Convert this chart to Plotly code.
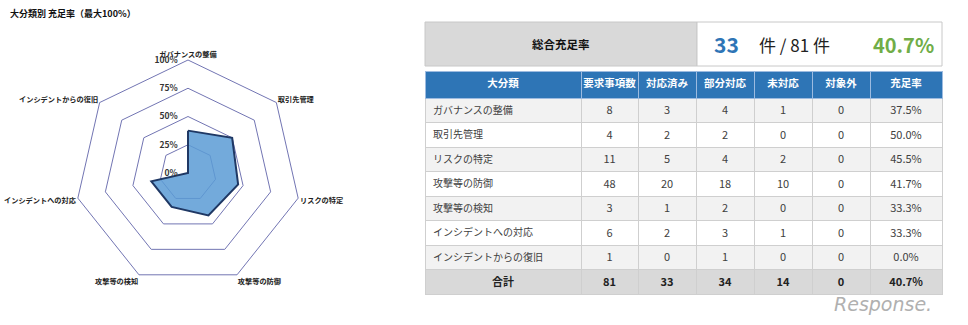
import plotly.graph_objects as go

# ---------------- data ----------------
categories = ["ガバナンスの整備", "取引先管理", "リスクの特定", "攻撃等の防御",
              "攻撃等の検知", "インシデントへの対応", "インシデントからの復旧"]
required = [8, 4, 11, 48, 3, 6, 1]
done = [3, 2, 5, 20, 1, 2, 0]
partial = [4, 2, 4, 18, 2, 3, 1]
notdone = [1, 0, 2, 10, 0, 1, 0]
excluded = [0, 0, 0, 0, 0, 0, 0]
rates = [37.5, 50.0, 45.5, 41.7, 33.3, 33.3, 0.0]
total_label = "合計"
totals = [81, 33, 34, 14, 0]
total_rate = 40.7
headers = ["大分類", "要求事項数", "対応済み", "部分対応", "未対応", "対象外", "充足率"]
radial_ticks = [0, 25, 50, 75, 100]
radial_ticktext = ["0%", "25%", "50%", "75%", "100%"]
summary_title = "総合充足率"
summary_done = 33
summary_total = 81

W, H = 968, 325
FONT = "Noto Sans CJK JP"

def px(x):
    return x / W

def py(y):
    return 1 - y / H

fig = go.Figure()

# ---------------- radar ----------------
fig.add_trace(go.Scatterpolar(
    r=rates + rates[:1],
    theta=categories + categories[:1],
    mode="lines",
    fill="toself",
    fillcolor="rgba(91,155,213,0.85)",
    line=dict(color="#1f3864", width=2),
    hoverinfo="skip",
    showlegend=False,
))

grid_col = "#7275b3"
fig.update_layout(
    polar=dict(
        domain=dict(x=[px(75), px(301)], y=[py(286), py(60)]),
        bgcolor="white",
        gridshape="linear",
        radialaxis=dict(
            range=[0, 100], tickvals=radial_ticks,
            ticktext=[t + "\u2002\u2002" for t in radial_ticktext],
            angle=90, side="counterclockwise", showline=False, ticks="",
            tickangle=90,
            gridcolor=grid_col, gridwidth=1,
            tickfont=dict(family=FONT, size=8.5, color="#333333", weight="bold"),
        ),
        angularaxis=dict(
            direction="clockwise", rotation=90, showgrid=False,
            showline=True, linecolor=grid_col, linewidth=1, ticks="",
            tickfont=dict(family=FONT, size=7.2, color="#222222", weight="bold"),
        ),
    )
)

# ---------------- table ----------------
n = len(categories)
row_fill = ["#f2f2f2" if i % 2 == 0 else "#ffffff" for i in range(n)]
colw = [156, 57, 58, 58, 58, 58, 72]
HEAD_H, ROW_H = 27, 24.5
TOP = 71

cols = [categories]
for arr in [required, done, partial, notdone, excluded]:
    cols.append([str(v) for v in arr])
cols.append(["%.1f%%" % r for r in rates])

fig.add_trace(go.Table(
    domain=dict(x=[px(425), px(942)], y=[0, py(TOP)]),
    columnwidth=colw,
    header=dict(
        values=headers,
        fill_color="#2e75b6",
        line=dict(color="#9dbbe0", width=1),
        align="center",
        height=HEAD_H,
        font=dict(family=FONT, size=10.5, color="white", weight="bold"),
    ),
    cells=dict(
        values=cols,
        fill_color=[row_fill] * 7,
        line=dict(color="#cfcfcf", width=1),
        align=["left"] + ["center"] * 6,
        height=ROW_H,
        font=dict(family=FONT, size=[10] + [11] * 6, color="#404040"),
    ),
))

# totals row as its own single-row table
total_top = TOP + HEAD_H + n * ROW_H
total_vals = [total_label] + [str(t) for t in totals] + ["%.1f%%" % total_rate]
fig.add_trace(go.Table(
    domain=dict(x=[px(425), px(942)], y=[0, py(total_top)]),
    columnwidth=colw,
    header=dict(
        values=total_vals,
        fill_color="#d9d9d9",
        line=dict(color="#cfcfcf", width=1),
        align="center",
        height=ROW_H,
        font=dict(family=FONT, size=11, color="#222222", weight="bold"),
    ),
    cells=dict(values=[[] for _ in total_vals]),
))

# ---------------- summary box ----------------
shapes = [
    dict(type="rect", xref="paper", yref="paper",
         x0=px(425), x1=px(697), y0=py(66), y1=py(22),
         fillcolor="#d9d9d9", line=dict(color="#c8c8c8", width=1)),
    dict(type="rect", xref="paper", yref="paper",
         x0=px(697), x1=px(942), y0=py(66), y1=py(22),
         fillcolor="#ffffff", line=dict(color="#c8c8c8", width=1)),
]
annotations = [
    dict(text="<b>大分類別 充足率（最大100%）</b>", x=px(8), y=py(13),
         xanchor="left", yanchor="middle", showarrow=False,
         font=dict(family=FONT, size=9, color="#111111")),
    dict(text="<b>%s</b>" % summary_title, x=px(561), y=py(44),
         xanchor="center", yanchor="middle", showarrow=False,
         font=dict(family=FONT, size=11.5, color="#111111")),
    dict(text="<b>%d</b>" % summary_done, x=px(726), y=py(44),
         xanchor="center", yanchor="middle", showarrow=False,
         font=dict(family=FONT, size=21, color="#2e75b6")),
    dict(text="件 / %d 件" % summary_total, x=px(757), y=py(44),
         xanchor="left", yanchor="middle", showarrow=False,
         font=dict(family=FONT, size=17, color="#222222")),
    dict(text="<b>%.1f%%</b>" % total_rate, x=px(936), y=py(44),
         xanchor="right", yanchor="middle", showarrow=False,
         font=dict(family=FONT, size=20, color="#70ad47")),
    dict(text="<i>Response.</i>", x=px(934), y=py(304),
         xanchor="right", yanchor="middle", showarrow=False,
         font=dict(family="DejaVu Sans", size=19, color="#b0b0b0")),
]

fig.update_layout(
    width=W, height=H,
    margin=dict(l=0, r=0, t=0, b=0),
    paper_bgcolor="white",
    plot_bgcolor="white",
    shapes=shapes,
    annotations=annotations,
    font=dict(family=FONT),
    showlegend=False,
)

fig.write_html("out.html")
